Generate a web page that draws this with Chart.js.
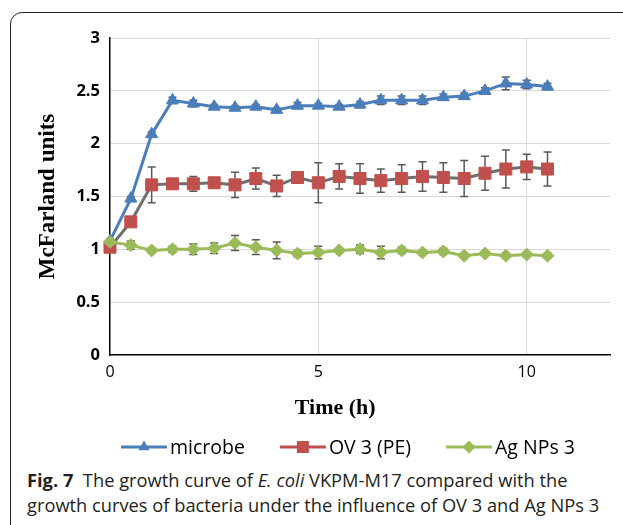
<!DOCTYPE html>
<html>
<head>
<meta charset="utf-8">
<script src="https://cdn.jsdelivr.net/npm/chart.js@4.4.1/dist/chart.umd.min.js"></script>
<style>
    body { margin: 0; width: 623px; height: 525px; overflow: hidden; background: #fff; position: relative; }
    .moldura { position: absolute; left: 10px; top: 12px; width: 700px; height: 600px; border: 1px solid #231f20; border-radius: 12px; }
    #myChart { position: absolute; left: 0; top: 0; }
    .legenda { position: absolute; left: 27px; top: 467px; font-family: "Open Sans", sans-serif; font-size: 18.3px; line-height: 25px; color: #231f20; white-space: nowrap; }
</style>
</head>
<body>
<div class="moldura"></div>
<canvas id="myChart" width="623" height="460"></canvas>
<div class="legenda"><b>Fig. 7</b>&nbsp; The growth curve of <i>E. coli</i> VKPM-M17 compared with the<br>growth curves of bacteria under the influence of OV 3 and Ag NPs 3</div>

<script>
// tempos (h)
const tempos = [0, 0.5, 1, 1.5, 2, 2.5, 3, 3.5, 4, 4.5, 5, 5.5, 6, 6.5, 7, 7.5, 8, 8.5, 9, 9.5, 10, 10.5];

// valores (McFarland)
const microbe = [1.08, 1.48, 2.09, 2.41, 2.38, 2.35, 2.34, 2.35, 2.32, 2.36, 2.36, 2.35, 2.37, 2.41, 2.41, 2.41, 2.44, 2.45, 2.50, 2.57, 2.56, 2.54];
const microbeErr = [0.02, 0.02, 0.02, 0.03, 0.03, 0.02, 0.02, 0.02, 0.02, 0.03, 0.02, 0.02, 0.03, 0.04, 0.04, 0.04, 0.03, 0.03, 0.03, 0.06, 0.04, 0.03];

const ov3 = [1.02, 1.26, 1.61, 1.62, 1.62, 1.63, 1.61, 1.67, 1.60, 1.68, 1.63, 1.69, 1.67, 1.65, 1.67, 1.69, 1.68, 1.67, 1.72, 1.76, 1.78, 1.76];
const ov3Err = [0.02, 0.02, 0.17, 0.03, 0.07, 0.04, 0.12, 0.10, 0.10, 0.04, 0.19, 0.12, 0.14, 0.11, 0.13, 0.14, 0.14, 0.17, 0.16, 0.18, 0.12, 0.16];

const agNps = [1.07, 1.04, 0.99, 1.00, 1.00, 1.01, 1.06, 1.02, 0.99, 0.96, 0.97, 0.99, 1.00, 0.97, 0.99, 0.97, 0.98, 0.94, 0.96, 0.94, 0.95, 0.94];
const agNpsErr = [0.02, 0.04, 0.02, 0.03, 0.05, 0.05, 0.07, 0.07, 0.08, 0.03, 0.06, 0.02, 0.04, 0.06, 0.03, 0.02, 0.03, 0.02, 0.02, 0.02, 0.02, 0.02];

const nomes = ['microbe', 'OV 3 (PE)', 'Ag NPs 3'];

// marcas dos eixos
const xTicks = [0, 5, 10];
const yTicks = [0, 0.5, 1, 1.5, 2, 2.5, 3];

const pontos = (valores) => tempos.map((t, i) => ({ x: t, y: valores[i] }));

// desenha um marcador simples (legenda)
function marcador(ctx, tipo, x, y, r) {
    ctx.beginPath();
    if (tipo === 'triangle') {
        ctx.moveTo(x, y - r);
        ctx.lineTo(x + r * 0.866, y + r * 0.5);
        ctx.lineTo(x - r * 0.866, y + r * 0.5);
    } else if (tipo === 'rect') {
        const s = r * Math.SQRT1_2;
        ctx.rect(x - s, y - s, 2 * s, 2 * s);
    } else {
        ctx.moveTo(x - r, y);
        ctx.lineTo(x, y - r);
        ctx.lineTo(x + r, y);
        ctx.lineTo(x, y + r);
    }
    ctx.closePath();
    ctx.fill();
}

// barras de erro
const barrasErro = {
    id: 'barrasErro',
    beforeDatasetsDraw(chart) {
        const { ctx, scales: { x, y } } = chart;
        ctx.save();
        ctx.strokeStyle = '#595959';
        ctx.lineWidth = 1.5;
        chart.data.datasets.forEach(ds => {
            ds.data.forEach((p, i) => {
                const e = ds.erros[i];
                const px = x.getPixelForValue(p.x);
                const topo = y.getPixelForValue(p.y + e);
                const base = y.getPixelForValue(p.y - e);
                ctx.beginPath();
                ctx.moveTo(px, topo); ctx.lineTo(px, base);
                ctx.moveTo(px - 4, topo); ctx.lineTo(px + 4, topo);
                ctx.moveTo(px - 4, base); ctx.lineTo(px + 4, base);
                ctx.stroke();
            });
        });
        ctx.restore();
    }
};

// legenda com linha + marcador
const legendaLinha = {
    id: 'legendaLinha',
    afterDraw(chart) {
        const ctx = chart.ctx;
        let x = 121;
        const y = 447;
        ctx.save();
        ctx.font = '19.5px "Open Sans"';
        ctx.textBaseline = 'middle';
        chart.data.datasets.forEach(ds => {
            ctx.strokeStyle = ds.corLegenda;
            ctx.fillStyle = ds.corLegenda;
            ctx.lineWidth = 3;
            ctx.beginPath();
            ctx.moveTo(x, y); ctx.lineTo(x + 46, y);
            ctx.stroke();
            marcador(ctx, ds.pointStyle, x + 23, y, ds.pointStyle === 'rect' ? 8.5 : 6.5);
            ctx.fillStyle = '#000';
            ctx.fillText(ds.label, x + 49, y + 1);
            x += 49 + ctx.measureText(ds.label).width + 35;
        });
        ctx.restore();
    }
};

const gradeCor = (c) => c.tick && c.tick.value === 0 ? 'rgba(0,0,0,0)' : '#d9d9d9';

const ctx = document.getElementById('myChart');
const grafico = new Chart(ctx, {
    type: 'line',
    data: {
        datasets: [
            {
                label: nomes[0], data: pontos(microbe), erros: microbeErr, order: 3,
                borderColor: '#4a7ebb', corLegenda: '#4a7ebb', borderWidth: 3,
                pointStyle: 'triangle', pointRadius: 7, pointBackgroundColor: '#4a7ebb', pointBorderColor: '#4a7ebb', pointBorderWidth: 1,
                tension: 0, clip: false
            },
            {
                label: nomes[1], data: pontos(ov3), erros: ov3Err, order: 2,
                borderColor: '#6e6e6e', corLegenda: '#c0504d', borderWidth: 3,
                pointStyle: 'rect', pointRadius: 8.5, pointBackgroundColor: '#c0504d', pointBorderColor: '#c0504d', pointBorderWidth: 1,
                tension: 0, clip: false
            },
            {
                label: nomes[2], data: pontos(agNps), erros: agNpsErr, order: 1,
                borderColor: '#9bbb59', corLegenda: '#9bbb59', borderWidth: 3,
                pointStyle: 'rectRot', pointRadius: 6.5, pointBackgroundColor: '#9bbb59', pointBorderColor: '#9bbb59', pointBorderWidth: 1,
                tension: 0, clip: false
            }
        ]
    },
    options: {
        responsive: false,
        animation: false,
        layout: { padding: { left: 0, top: 38, right: 13, bottom: 35 } },
        plugins: { legend: { display: false }, tooltip: { enabled: false } },
        scales: {
            x: {
                type: 'linear', min: 0, max: 12,
                afterBuildTicks: (a) => { a.ticks = xTicks.map(v => ({ value: v })); },
                afterFit: (a) => { a.height = 70; },
                grid: { color: gradeCor, drawTicks: false },
                border: { color: '#000', width: 1.5 },
                ticks: { padding: 8, color: '#000', font: { family: 'Open Sans', size: 16 } },
                title: {
                    // espacos no fim empurram o titulo para a esquerda como no original
                    display: true, text: 'Time (h)\u00a0\u00a0\u00a0\u00a0\u00a0\u00a0\u00a0\u00a0\u00a0', color: '#000',
                    font: { family: 'Liberation Serif', size: 22, weight: 'bold' },
                    padding: { top: 0, bottom: 3 }
                }
            },
            y: {
                min: 0, max: 3,
                afterBuildTicks: (a) => { a.ticks = yTicks.map(v => ({ value: v })); },
                afterFit: (a) => { a.width = 110; },
                grid: { color: gradeCor, drawTicks: false },
                border: { color: '#000', width: 1.5 },
                ticks: {
                    padding: 10, color: '#000', font: { family: 'Open Sans', size: 16.5, weight: 'bold' },
                    callback: (v) => String(v)
                },
                title: {
                    display: true, text: 'McFarland units', color: '#000',
                    font: { family: 'Liberation Serif', size: 23, weight: 'bold' },
                    padding: { top: 34, bottom: 0 }
                }
            }
        }
    },
    plugins: [barrasErro, legendaLinha]
});
</script>
</body>
</html>
